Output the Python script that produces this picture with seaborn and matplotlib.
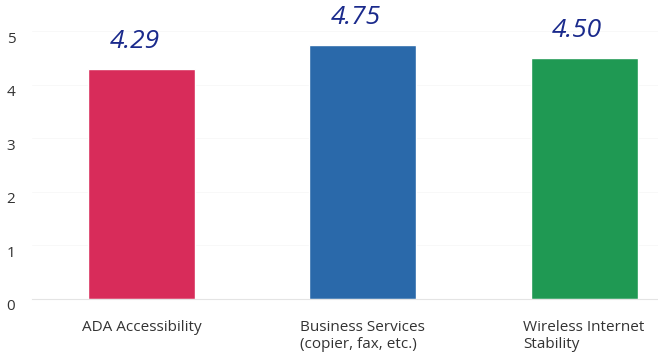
import matplotlib
matplotlib.use("Agg")
import matplotlib.pyplot as plt
import matplotlib.transforms as mtransforms
import pandas as pd
import seaborn as sns

categories = ["ADA Accessibility", "Business Services\n(copier, fax, etc.)", "Wireless Internet\nStability"]
scores = [4.29, 4.75, 4.50]
notes = ["4.29", "4.75", "4.50"]
colors = ["#d82c5a", "#2a69aa", "#1f9953"]
yticks = [0, 1, 2, 3, 4, 5]


def main():
    df = pd.DataFrame({"item": categories, "score": scores})

    sns.set_style("white")
    plt.rcParams["font.family"] = ["Open Sans", "DejaVu Sans"]

    fig = plt.figure(figsize=(6.58, 3.57), dpi=100)
    ax = fig.add_axes([0.0486, 0.1625, 0.9514, 0.7495])

    sns.barplot(df, x="item", y="score", hue="item", palette=colors,
                width=0.483, saturation=1, legend=False, ax=ax)

    ax.set_ylim(0, 5)
    ax.set_xlim(-0.494, 2.334)
    ax.set_yticks(yticks)
    ax.set_xlabel("")
    ax.set_ylabel("")
    # gridlines are barely visible in the scan, only the baseline shows
    ax.grid(axis="y", color="#f7f7f7", linewidth=0.6)
    ax.set_axisbelow(True)
    sns.despine(ax=ax, left=True)
    ax.spines["bottom"].set_color("#e4e4e4")
    ax.spines["bottom"].set_linewidth(0.8)
    ax.tick_params(axis="y", length=0, pad=12, labelsize=11, labelcolor="#333333")
    ax.tick_params(axis="x", length=0, pad=15, labelsize=11, labelcolor="#333333")

    # y labels sit a little below their gridlines
    shift = mtransforms.ScaledTranslation(0, -6 / 100, fig.dpi_scale_trans)
    for lab in ax.get_yticklabels():
        lab.set_transform(lab.get_transform() + shift)
    for lab in ax.get_xticklabels():
        lab.set_multialignment("left")
        lab.set_verticalalignment("top")

    # handwritten values above the bars
    for i, (v, t) in enumerate(zip(scores, notes)):
        ax.annotate(t, (i, v), xytext=(-5, 11), textcoords="offset points",
                    ha="center", va="bottom", fontsize=19, color="#1a2a8c",
                    style="italic", clip_on=False, annotation_clip=False)

    fig.savefig("out.png", dpi=100)
    plt.close(fig)


if __name__ == "__main__":
    main()
